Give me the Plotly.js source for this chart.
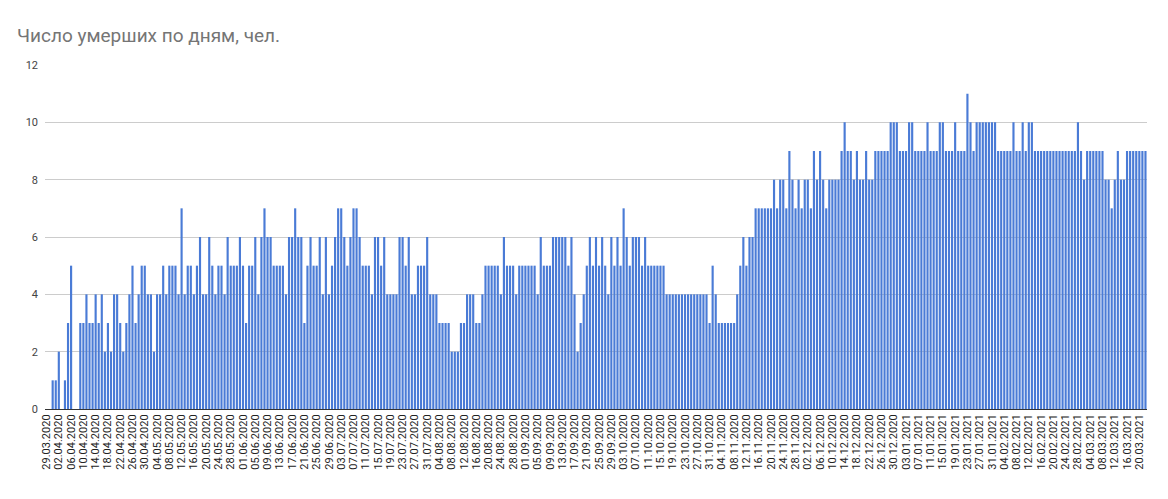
<!DOCTYPE html>
<html>
<head>
<meta charset="utf-8">
<script src="https://cdn.plot.ly/plotly-3.0.1.min.js"></script>
<style>
  html, body { margin: 0; padding: 0; background: #fff; }
  #chart { width: 1168px; height: 499px; }
</style>
</head>
<body>
<div id="chart"></div>
<script>
// Daily deaths, 29.03.2020 – 22.03.2021, one array per month
const mar2020 = [0, 0, 1];
const apr2020 = [1, 2, 0, 1, 3, 5, 0, 0, 3, 3, 4, 3, 3, 4, 3, 4, 2, 3, 2, 4, 4, 3, 2, 3, 4, 5, 3, 4, 5, 5];
const may2020 = [4, 4, 2, 4, 4, 5, 4, 5, 5, 5, 4, 7, 4, 5, 5, 4, 5, 6, 4, 4, 6, 5, 4, 5, 5, 4, 6, 5, 5, 5, 6];
const jun2020 = [5, 3, 5, 5, 6, 4, 6, 7, 6, 6, 5, 5, 5, 5, 4, 6, 6, 7, 6, 6, 3, 5, 6, 5, 5, 6, 4, 6, 4, 5];
const jul2020 = [6, 7, 7, 6, 5, 6, 7, 7, 6, 5, 5, 5, 4, 6, 6, 5, 6, 4, 4, 4, 4, 6, 6, 5, 6, 4, 4, 5, 5, 5, 6];
const aug2020 = [4, 4, 4, 3, 3, 3, 3, 2, 2, 2, 3, 3, 4, 4, 4, 3, 3, 4, 5, 5, 5, 5, 5, 4, 6, 5, 5, 5, 4, 5, 5];
const sep2020 = [5, 5, 5, 5, 4, 6, 5, 5, 5, 6, 6, 6, 6, 6, 5, 6, 4, 2, 3, 4, 5, 6, 5, 6, 5, 6, 5, 4, 6, 5];
const oct2020 = [6, 5, 7, 6, 5, 6, 6, 6, 5, 6, 5, 5, 5, 5, 5, 5, 4, 4, 4, 4, 4, 4, 4, 4, 4, 4, 4, 4, 4, 4, 3];
const nov2020 = [5, 4, 3, 3, 3, 3, 3, 3, 4, 5, 6, 5, 6, 6, 7, 7, 7, 7, 7, 7, 8, 7, 8, 8, 7, 9, 8, 7, 8, 7];
const dec2020 = [8, 8, 7, 9, 8, 9, 8, 7, 8, 8, 8, 8, 9, 10, 9, 9, 8, 9, 8, 8, 9, 8, 8, 9, 9, 9, 9, 9, 10, 10, 10];
const jan2021 = [9, 9, 9, 10, 10, 9, 9, 9, 9, 10, 9, 9, 9, 10, 10, 9, 9, 9, 10, 9, 9, 9, 11, 10, 9, 10, 10, 10, 10, 10, 10];
const feb2021 = [10, 9, 9, 9, 9, 9, 10, 9, 9, 10, 9, 10, 10, 9, 9, 9, 9, 9, 9, 9, 9, 9, 9, 9, 9, 9, 9, 10];
const mar2021 = [9, 8, 9, 9, 9, 9, 9, 9, 8, 8, 7, 8, 9, 8, 8, 9, 9, 9, 9, 9, 9, 9];

const deaths = [].concat(mar2020, apr2020, may2020, jun2020, jul2020, aug2020,
  sep2020, oct2020, nov2020, dec2020, jan2021, feb2021, mar2021);

// Category labels: consecutive days starting 29.03.2020
const startDate = [2020, 2, 29]; // year, month index, day
function pad(n) { return (n < 10 ? '0' : '') + n; }
const days = deaths.map((_, i) => {
  const d = new Date(Date.UTC(startDate[0], startDate[1], startDate[2] + i));
  return pad(d.getUTCDate()) + '.' + pad(d.getUTCMonth() + 1) + '.' + d.getUTCFullYear();
});
// tick labels every 4th day
const tickLabels = days.filter((_, i) => i % 4 === 0);

const trace = {
  type: 'bar',
  x: days,
  y: deaths,
  marker: { color: '#4a7bd6' },
  hoverinfo: 'x+y'
};

const layout = {
  width: 1168,
  height: 499,
  margin: { l: 45, r: 21, t: 65, b: 90 },
  paper_bgcolor: '#ffffff',
  plot_bgcolor: '#ffffff',
  bargap: 0.3,
  showlegend: false,
  title: {
    text: 'Число умерших по дням, чел.',
    font: { family: 'Roboto, Arial, sans-serif', size: 19, color: '#757575' },
    x: 17 / 1168, xanchor: 'left', xref: 'container',
    y: 1 - 35 / 499, yanchor: 'middle', yref: 'container'
  },
  xaxis: {
    type: 'category',
    tickmode: 'array',
    tickvals: tickLabels,
    ticktext: tickLabels,
    tickangle: -90,
    tickfont: { family: 'Roboto, Arial, sans-serif', size: 11, color: '#222' },
    showgrid: false,
    showline: true,
    linecolor: '#333',
    linewidth: 1,
    ticks: '',
    automargin: false
  },
  yaxis: {
    range: [0, 12],
    tickvals: [0, 2, 4, 6, 8, 10, 12],
    tickfont: { family: 'Roboto, Arial, sans-serif', size: 11, color: '#444' },
    gridcolor: '#cccccc',
    gridwidth: 1,
    zeroline: false,
    showline: false,
    ticks: '',
    ticklabelstandoff: 6,
    automargin: false
  }
};

Plotly.newPlot('chart', [trace], layout, { displayModeBar: false, staticPlot: true });
</script>
</body>
</html>
